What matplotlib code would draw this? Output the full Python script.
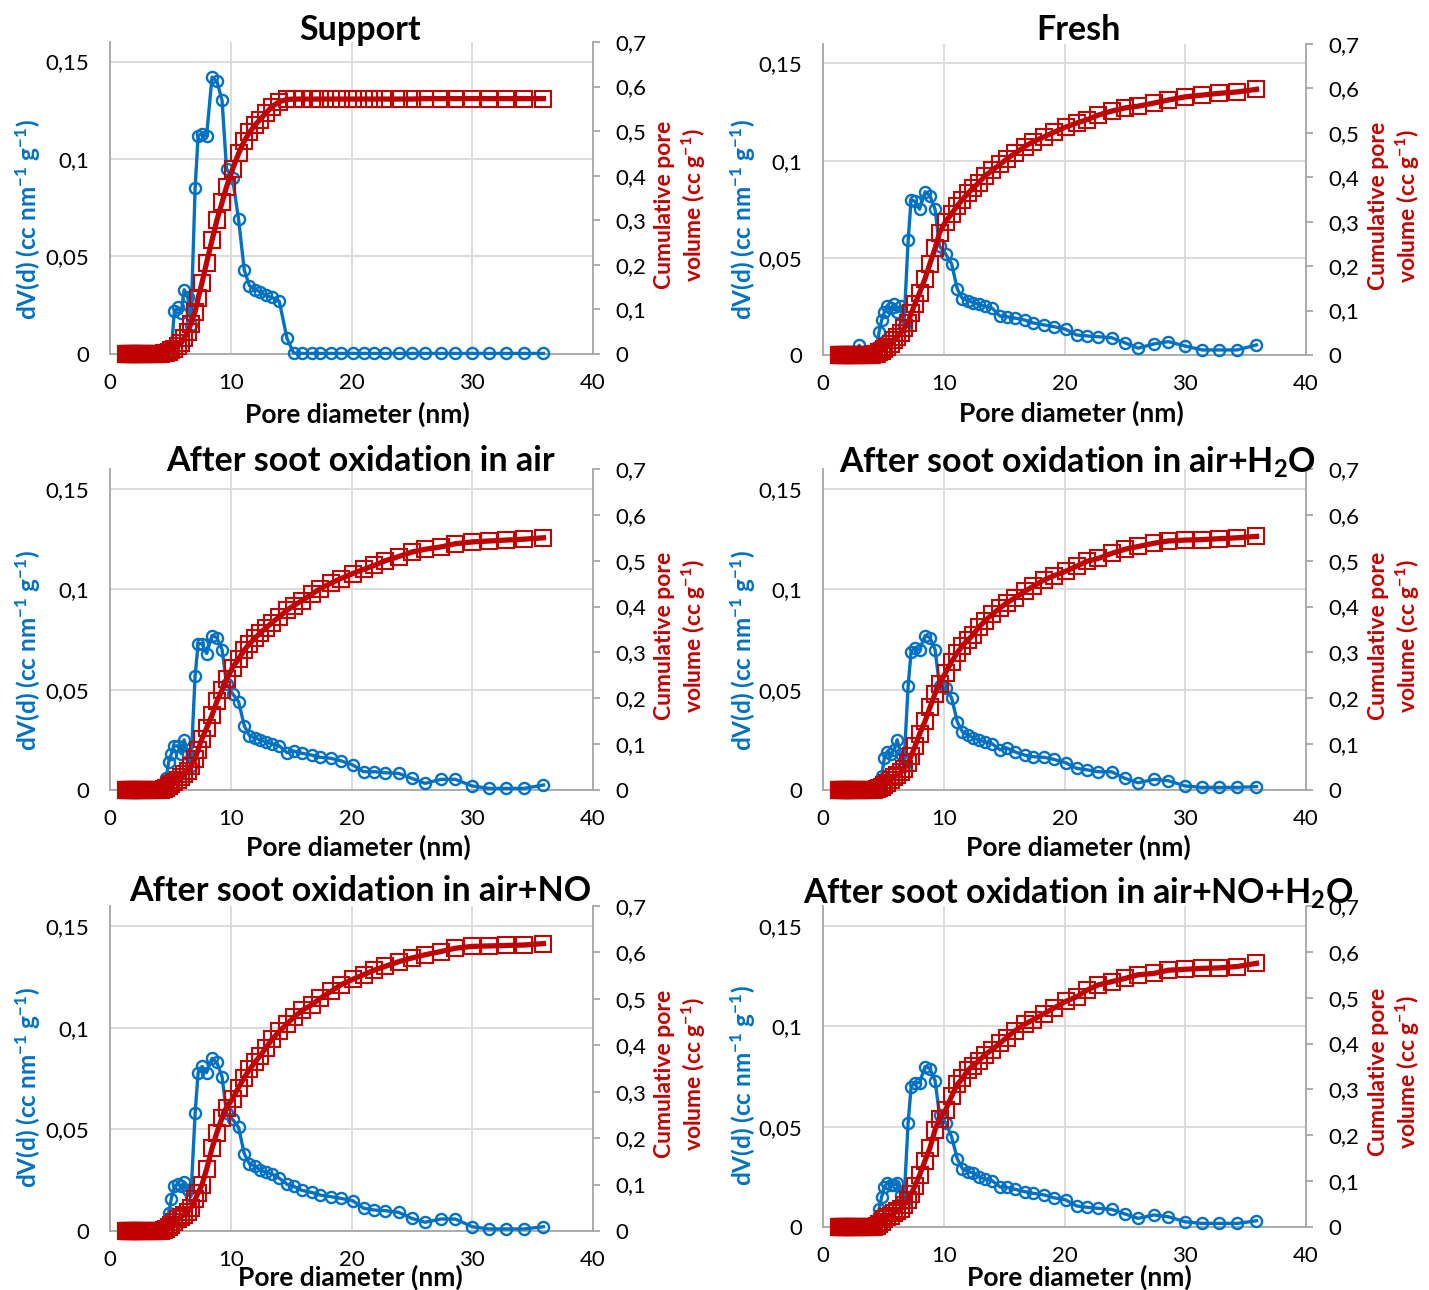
import matplotlib.pyplot as plt

plt.rcParams['font.family'] = 'Lato'
plt.rcParams['mathtext.fontset'] = 'custom'
plt.rcParams['mathtext.rm'] = 'Lato'
plt.rcParams['mathtext.bf'] = 'Lato:bold'
plt.rcParams['mathtext.it'] = 'Lato:italic'

# pore diameter grid (nm), shared by all samples
diam = [1.30, 1.36, 1.42, 1.48, 1.55, 1.62, 1.69, 1.77, 1.85, 1.93,
        2.02, 2.11, 2.20, 2.30, 2.40, 2.51, 2.63, 2.74, 2.87, 3.00,
        3.13, 3.27, 3.42, 3.57, 3.73, 3.90, 4.08, 4.26,
        4.45, 4.65, 4.86, 5.08, 5.33, 5.62, 5.90, 6.14, 6.45, 6.70,
        7.05, 7.30, 7.62, 8.00, 8.45, 8.85, 9.28, 9.65, 10.15, 10.65,
        11.12, 11.55, 12.0, 12.42, 12.9, 13.42, 14.02, 14.66, 15.21,
        15.9, 16.7, 17.4, 18.3, 19.1, 20.1, 21.0, 21.9, 22.8, 23.9,
        25.0, 26.1, 27.4, 28.6, 30.0, 31.4, 32.8, 34.3, 35.9]

# dV(d) (cc nm-1 g-1)
dv_support = [0, 0, 0, 0, 0, 0, 0, 0, 0, 0,
              0, 0, 0, 0, 0, 0, 0, 0, 0, 0,
              0, 0, 0, 0, 0, 0, 0, 0,
              0, 0, 0, 0.002, 0.022, 0.024, 0.021, 0.033, 0.029, 0.015,
              0.085, 0.112, 0.113, 0.112, 0.142, 0.140, 0.130, 0.095, 0.090, 0.069,
              0.043, 0.035, 0.033, 0.032, 0.030, 0.029, 0.027, 0.008, 0.0005,
              0.0003, 0.0003, 0.0003, 0.0003, 0.0003, 0.0003, 0.0003, 0.0003, 0.0003, 0.0003,
              0.0003, 0.0003, 0.0003, 0.0003, 0.0003, 0.0003, 0.0003, 0.0003, 0.0003]
dv_fresh = [0, 0, 0, 0, 0, 0, 0, 0, 0, 0,
            0, 0, 0, 0, 0, 0, 0, 0, 0.001, 0.005,
            0.001, 0, 0, 0, 0, 0, 0, 0,
            0.004, 0.012, 0.018, 0.022, 0.025, 0.024, 0.026, 0.022, 0.025, 0.015,
            0.059, 0.080, 0.079, 0.075, 0.084, 0.082, 0.075, 0.056, 0.052, 0.047,
            0.034, 0.029, 0.028, 0.027, 0.026, 0.025, 0.024, 0.020, 0.0197,
            0.019, 0.018, 0.0165, 0.0155, 0.0146, 0.0132, 0.0103, 0.0098, 0.0094, 0.0089,
            0.0063, 0.0035, 0.0057, 0.0069, 0.0046, 0.0026, 0.0026, 0.0026, 0.0052]
dv_air = [0, 0, 0, 0, 0, 0, 0, 0, 0, 0,
          0, 0, 0, 0, 0, 0, 0, 0, 0, 0,
          0, 0, 0, 0, 0, 0, 0, 0,
          0.001, 0.006, 0.014, 0.018, 0.022, 0.022, 0.018, 0.025, 0.018, 0.012,
          0.057, 0.073, 0.073, 0.068, 0.077, 0.076, 0.070, 0.053, 0.048, 0.044,
          0.032, 0.027, 0.026, 0.025, 0.024, 0.023, 0.022, 0.0186, 0.0194,
          0.0183, 0.0174, 0.0163, 0.0158, 0.0146, 0.0125, 0.0091, 0.0091, 0.0086, 0.0083,
          0.0058, 0.0033, 0.0053, 0.0053, 0.0020, 0.0008, 0.0008, 0.0008, 0.0025]
dv_air_h2o = [0, 0, 0, 0, 0, 0, 0, 0, 0, 0,
              0, 0, 0, 0, 0, 0, 0, 0, 0, 0,
              0, 0, 0, 0, 0, 0, 0, 0,
              0, 0.002, 0.007, 0.016, 0.019, 0.018, 0.020, 0.025, 0.018, 0.012,
              0.052, 0.069, 0.071, 0.070, 0.077, 0.076, 0.070, 0.052, 0.051, 0.046,
              0.034, 0.029, 0.0274, 0.026, 0.025, 0.024, 0.023, 0.020, 0.021,
              0.019, 0.0174, 0.0166, 0.0163, 0.0153, 0.0136, 0.0108, 0.0100, 0.0091, 0.0091,
              0.0058, 0.0036, 0.0053, 0.0046, 0.0020, 0.0013, 0.0013, 0.0013, 0.0017]
dv_air_no = [0, 0, 0, 0, 0, 0, 0, 0, 0, 0,
             0, 0, 0, 0, 0, 0, 0, 0, 0, 0,
             0, 0, 0, 0, 0, 0, 0, 0,
             0.002, 0.004, 0.009, 0.016, 0.022, 0.023, 0.022, 0.024, 0.020, 0.017,
             0.058, 0.078, 0.081, 0.078, 0.085, 0.083, 0.076, 0.058, 0.055, 0.051,
             0.038, 0.033, 0.032, 0.030, 0.029, 0.028, 0.026, 0.023, 0.022,
             0.020, 0.019, 0.0177, 0.0169, 0.0161, 0.0149, 0.0112, 0.0103, 0.0100, 0.0092,
             0.0062, 0.0043, 0.0059, 0.0059, 0.0021, 0.0010, 0.0010, 0.0010, 0.0021]
dv_air_no_h2o = [0, 0, 0, 0, 0, 0, 0, 0, 0, 0,
                 0, 0, 0, 0, 0, 0, 0, 0, 0, 0,
                 0, 0, 0, 0, 0, 0, 0, 0,
                 0.003, 0.009, 0.015, 0.020, 0.022, 0.021, 0.021, 0.022, 0.016, 0.012,
                 0.052, 0.070, 0.072, 0.072, 0.080, 0.079, 0.073, 0.056, 0.052, 0.045,
                 0.034, 0.029, 0.0276, 0.027, 0.025, 0.024, 0.023, 0.020, 0.0198,
                 0.0188, 0.0176, 0.0168, 0.0160, 0.0146, 0.0135, 0.0105, 0.0098, 0.0093, 0.0088,
                 0.0065, 0.0043, 0.0060, 0.0051, 0.0026, 0.0018, 0.0018, 0.0018, 0.0031]

# cumulative pore volume (cc g-1)
cum_support = [0, 0, 0, 0, 0, 0, 0, 0, 0, 0,
               0, 0, 0, 0, 0, 0, 0, 0, 0, 0,
               0, 0, 0, 0, 0, 0, 0, 0.001,
               0.002, 0.003, 0.005, 0.008, 0.012, 0.018, 0.025, 0.035, 0.050, 0.068,
               0.095, 0.125, 0.160, 0.205, 0.255, 0.300, 0.340, 0.375, 0.415, 0.450,
               0.478, 0.497, 0.513, 0.526, 0.540, 0.555, 0.566, 0.571, 0.572,
               0.572, 0.572, 0.572, 0.572, 0.572, 0.572, 0.572, 0.572, 0.572, 0.572,
               0.572, 0.573, 0.573, 0.573, 0.573, 0.573, 0.573, 0.573, 0.573]
cum_fresh = [0, 0, 0, 0, 0, 0, 0, 0, 0, 0,
             0, 0, 0, 0, 0, 0, 0, 0, 0, 0.001,
             0.001, 0.001, 0.001, 0.001, 0.001, 0.001, 0.001, 0.002,
             0.003, 0.006, 0.010, 0.014, 0.019, 0.025, 0.033, 0.040, 0.050, 0.060,
             0.072, 0.094, 0.115, 0.140, 0.172, 0.205, 0.240, 0.275, 0.300, 0.318,
             0.336, 0.350, 0.364, 0.375, 0.388, 0.403, 0.416, 0.429, 0.441,
             0.454, 0.469, 0.480, 0.491, 0.501, 0.513, 0.522, 0.530, 0.540, 0.549,
             0.556, 0.560, 0.567, 0.574, 0.581, 0.585, 0.589, 0.592, 0.598]
cum_air = [0, 0, 0, 0, 0, 0, 0, 0, 0, 0,
           0, 0, 0, 0, 0, 0, 0, 0, 0, 0,
           0, 0, 0, 0, 0, 0, 0, 0.001,
           0.002, 0.004, 0.008, 0.012, 0.017, 0.022, 0.028, 0.034, 0.042, 0.052,
           0.068, 0.088, 0.112, 0.135, 0.163, 0.193, 0.218, 0.241, 0.267, 0.286,
           0.305, 0.319, 0.331, 0.342, 0.353, 0.365, 0.378, 0.392, 0.402,
           0.413, 0.427, 0.439, 0.451, 0.461, 0.472, 0.481, 0.490, 0.500, 0.509,
           0.519, 0.525, 0.530, 0.537, 0.541, 0.543, 0.545, 0.547, 0.550]
cum_air_h2o = [0, 0, 0, 0, 0, 0, 0, 0, 0, 0,
               0, 0, 0, 0, 0, 0, 0, 0, 0, 0,
               0, 0, 0, 0, 0, 0, 0, 0.001,
               0.002, 0.004, 0.007, 0.011, 0.016, 0.022, 0.028, 0.033, 0.039, 0.046,
               0.058, 0.075, 0.095, 0.122, 0.150, 0.180, 0.210, 0.231, 0.256, 0.280,
               0.299, 0.315, 0.327, 0.338, 0.355, 0.369, 0.383, 0.397, 0.408,
               0.419, 0.433, 0.444, 0.458, 0.467, 0.477, 0.488, 0.499, 0.505, 0.516,
               0.525, 0.531, 0.538, 0.543, 0.545, 0.546, 0.548, 0.550, 0.553]
cum_air_no = [0, 0, 0, 0, 0, 0, 0, 0, 0, 0,
              0, 0, 0, 0, 0, 0, 0, 0, 0, 0,
              0, 0, 0, 0, 0, 0, 0, 0.001,
              0.002, 0.004, 0.008, 0.014, 0.020, 0.026, 0.031, 0.035, 0.042, 0.050,
              0.068, 0.082, 0.100, 0.133, 0.178, 0.212, 0.244, 0.266, 0.285, 0.309,
              0.330, 0.348, 0.363, 0.377, 0.394, 0.413, 0.430, 0.446, 0.460,
              0.475, 0.487, 0.501, 0.516, 0.530, 0.542, 0.552, 0.562, 0.570, 0.580,
              0.588, 0.595, 0.602, 0.609, 0.613, 0.614, 0.615, 0.616, 0.619]
cum_air_no_h2o = [0, 0, 0, 0, 0, 0, 0, 0, 0, 0,
                  0, 0, 0, 0, 0, 0, 0, 0, 0, 0,
                  0, 0, 0, 0, 0, 0, 0, 0.001,
                  0.003, 0.006, 0.011, 0.017, 0.021, 0.025, 0.030, 0.034, 0.040, 0.047,
                  0.059, 0.072, 0.090, 0.113, 0.145, 0.172, 0.212, 0.236, 0.255, 0.285,
                  0.311, 0.324, 0.342, 0.352, 0.362, 0.376, 0.387, 0.401, 0.413,
                  0.428, 0.442, 0.452, 0.465, 0.477, 0.492, 0.502, 0.517, 0.528, 0.535,
                  0.542, 0.550, 0.553, 0.560, 0.562, 0.564, 0.565, 0.568, 0.575]

titles = ["Support", "Fresh", "After soot oxidation in air",
          r"After soot oxidation in air+H$_\mathbf{2}$O",
          "After soot oxidation in air+NO",
          r"After soot oxidation in air+NO+H$_\mathbf{2}$O"]
dv_all = [dv_support, dv_fresh, dv_air, dv_air_h2o, dv_air_no, dv_air_no_h2o]
cum_all = [cum_support, cum_fresh, cum_air, cum_air_h2o, cum_air_no, cum_air_no_h2o]

x_ticks = [0, 10, 20, 30, 40]
y_ticks = [0, 0.05, 0.1, 0.15]
y2_ticks = [0, 0.1, 0.2, 0.3, 0.4, 0.5, 0.6, 0.7]

BLUE = '#0070C0'
RED = '#C00000'
GRID = '#D9D9D9'
AXC = '#A6A6A6'

W, H = 1429, 1290
# panel boxes in pixels: left, right, top, bottom
boxes = [(110, 593, 42, 354), (823, 1306, 44, 355),
         (110, 593, 469, 790), (823, 1306, 469, 790),
         (110, 593, 906, 1231), (823, 1306, 906, 1227)]
title_xy = [(360, 30), (1078, 30), (360, 461), (1078, 462), (360, 891), (1078, 893)]
xlab_xy = [(357, 414), (1071, 413), (358, 847), (1078, 847), (350, 1277), (1079, 1277)]
ylab_y = [220, 220, 651, 651, 1088, 1086]
y2lab_y = [205, 206, 636, 636, 1074, 1072]


def fmt(v):
    return ('%g' % v).replace('.', ',')


def fx(px):
    return px / W


def fy(py):
    return 1 - py / H


fig = plt.figure(figsize=(W / 100, H / 100), dpi=100)

for i in range(6):
    l, r, t, b = boxes[i]
    ax = fig.add_axes([fx(l), fy(b), (r - l) / W, (b - t) / H])
    ax2 = ax.twinx()

    ax.plot(diam, dv_all[i], color=BLUE, lw=2.4, marker='o', ms=8,
            mfc='none', mec=BLUE, mew=1.7, clip_on=False, zorder=3)
    ax2.plot(diam, cum_all[i], color=RED, lw=3.8, marker='s', ms=12,
             mfc='none', mec=RED, mew=1.5, clip_on=False, zorder=3)

    ax.set_xlim(0, 40)
    ax.set_ylim(0, 0.16)
    ax2.set_ylim(0, 0.7)
    ax.set_xticks(x_ticks)
    ax.set_xticklabels([fmt(v) for v in x_ticks])
    ax.set_yticks(y_ticks)
    ax.set_yticklabels([fmt(v) for v in y_ticks])
    ax2.set_yticks(y2_ticks)
    ax2.set_yticklabels([fmt(v) for v in y2_ticks])

    ax.set_axisbelow(True)
    ax.grid(True, color=GRID, lw=1.3)
    for s in ['top', 'right']:
        ax.spines[s].set_visible(False)
    for s in ['top', 'left', 'bottom']:
        ax2.spines[s].set_visible(False)
    ax.spines['left'].set_color(AXC)
    ax.spines['bottom'].set_color(AXC)
    ax2.spines['right'].set_color(AXC)
    for s in ['left', 'bottom']:
        ax.spines[s].set_linewidth(1.3)
    ax2.spines['right'].set_linewidth(1.3)

    ax.tick_params(axis='y', length=0, pad=15, labelsize=16)
    ax.tick_params(axis='x', length=0, pad=14, labelsize=16)
    ax2.tick_params(axis='y', length=5, width=1.3, color=AXC, pad=11, labelsize=16)

    tx, ty = title_xy[i]
    fig.text(fx(tx), fy(ty), titles[i], ha='center', va='center',
             fontsize=24.5, fontweight='bold')
    lx, ly = xlab_xy[i]
    fig.text(fx(lx), fy(ly), "Pore diameter (nm)", ha='center', va='center',
             fontsize=19, fontweight='bold')
    yl_x = 28 if l < 400 else 742
    fig.text(fx(yl_x), fy(ylab_y[i]),
             r"dV(d) (cc nm$^{\mathbf{-1}}$ g$^{\mathbf{-1}}$)",
             rotation=90, ha='center', va='center', color=BLUE,
             fontsize=17.5, fontweight='bold')
    y2_x = 681 if l < 400 else 1395
    fig.text(fx(y2_x), fy(y2lab_y[i]),
             "Cumulative pore\n" + r"volume (cc g$^{\mathbf{-1}}$)",
             rotation=90, ha='center', va='center', color=RED,
             fontsize=16.5, fontweight='bold', multialignment='center',
             linespacing=1.2)

fig.savefig("out.png", dpi=100)
